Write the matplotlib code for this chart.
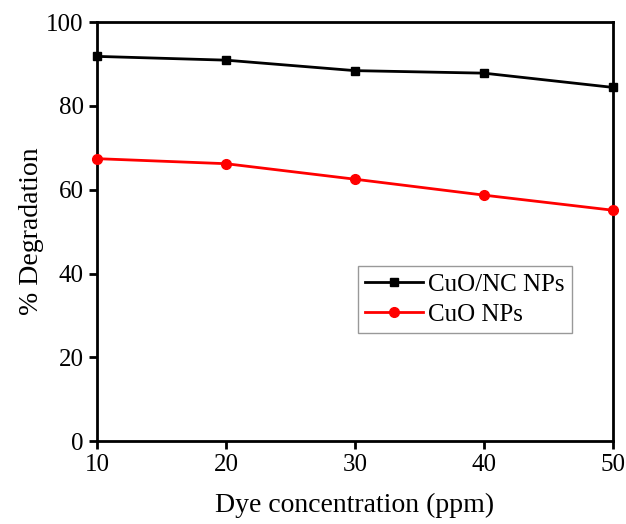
import matplotlib
matplotlib.use("Agg")
import matplotlib.pyplot as plt

# Dye concentration (ppm) and degradation (%) for both catalysts
concentration = [10, 20, 30, 40, 50]
cuo_nc = [91.8, 90.9, 88.4, 87.8, 84.4]
cuo = [67.4, 66.2, 62.5, 58.7, 55.1]

plt.rcParams['font.family'] = ['Liberation Serif', 'DejaVu Serif']

fig = plt.figure(figsize=(6.26, 5.24), dpi=100)
ax = fig.add_axes([0.155, 0.158, 0.824, 0.80])

ax.plot(concentration, cuo_nc, color='black', marker='s', markersize=6,
        linewidth=2, label='CuO/NC NPs', clip_on=False, zorder=3)
ax.plot(concentration, cuo, color='red', marker='o', markersize=7,
        linewidth=2, label='CuO NPs', clip_on=False, zorder=3)

ax.set_xlim(10, 50)
ax.set_ylim(0, 100)
ax.set_xticks([10, 20, 30, 40, 50])
ax.set_yticks([0, 20, 40, 60, 80, 100])
ax.tick_params(direction='out', length=6, width=2, labelsize=18)
for spine in ax.spines.values():
    spine.set_linewidth(2)

ax.set_xlabel('Dye concentration (ppm)', fontsize=20, labelpad=12)
ax.set_ylabel('% Degradation', fontsize=20, labelpad=2)

leg = ax.legend(loc='lower left', bbox_to_anchor=(0.505, 0.258), fontsize=18,
                frameon=True, fancybox=False, edgecolor='gray',
                handlelength=2.3, borderpad=0.3, labelspacing=0.3,
                handletextpad=0.2, borderaxespad=0)
leg.get_frame().set_linewidth(1)

fig.savefig('out.png', dpi=100)
